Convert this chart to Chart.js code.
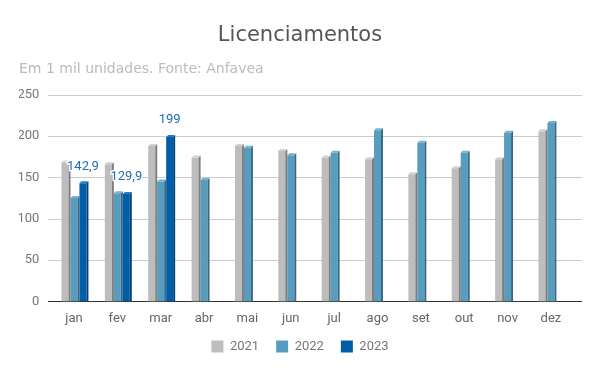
<!DOCTYPE html>
<html>
<head>
<meta charset="utf-8">
<script src="https://cdn.jsdelivr.net/npm/chart.js@4.4.1/dist/chart.umd.min.js"></script>
<style>
html,body{margin:0;padding:0;background:#fff;}
#wrap{width:600px;height:371px;}
</style>
</head>
<body>
<div id="wrap"><canvas id="c" width="600" height="371"></canvas></div>
<script>
const categories = ['jan','fev','mar','abr','mai','jun','jul','ago','set','out','nov','dez'];
const seriesNames = ['2021','2022','2023'];
const values2021 = [168, 166, 188, 174, 188, 182, 174, 172, 154, 161, 172, 206];
const values2022 = [125, 131, 145, 147, 186, 177, 180, 207, 192, 180, 204, 216];
const values2023 = [142.9, 129.9, 199, null, null, null, null, null, null, null, null, null];
const yTicks = [0, 50, 100, 150, 200, 250];

const front = ['#bdbdbd', '#579dc0', '#005ea8'];
const side  = ['#7e7e7e', '#3a6a83', '#00437a'];
const top_  = ['#d2d2d2', '#74b2d2', '#2a7bc0'];

const fmt = v => String(v).replace('.', ',');

const bars3d = {
  id: 'bars3d',
  afterLayout(chart) {
    // let the category labels extend below the shortened axis box (avoid clipping)
    chart.scales.x.bottom += 20;
  },
  beforeDatasetsDraw(chart) {
    const ctx = chart.ctx, y = chart.scales.y;
    ctx.save();
    yTicks.forEach(t => {
      const py = Math.round(y.getPixelForValue(t)) + 0.5;
      ctx.strokeStyle = t === 0 ? '#333333' : '#cccccc';
      ctx.lineWidth = 1;
      ctx.beginPath();
      ctx.moveTo(48, py);
      ctx.lineTo(582, py);
      ctx.stroke();
    });
    ctx.restore();
  },
  afterDatasetsDraw(chart) {
    const ctx = chart.ctx;
    const d = 2;
    ctx.save();
    chart.data.datasets.forEach((ds, i) => {
      const meta = chart.getDatasetMeta(i);
      meta.data.forEach((bar, j) => {
        if (ds.data[j] == null) return;
        const p = bar.getProps(['x','y','base','width'], true);
        const l = p.x - p.width/2, r = p.x + p.width/2, t = p.y, b = p.base;
        ctx.fillStyle = side[i];
        ctx.beginPath();
        ctx.moveTo(r, t); ctx.lineTo(r + d, t - d); ctx.lineTo(r + d, b); ctx.lineTo(r, b);
        ctx.closePath(); ctx.fill();
        ctx.fillStyle = top_[i];
        ctx.beginPath();
        ctx.moveTo(l, t); ctx.lineTo(l + d, t - d); ctx.lineTo(r + d, t - d); ctx.lineTo(r, t);
        ctx.closePath(); ctx.fill();
      });
    });
    // data labels for 2023
    const meta = chart.getDatasetMeta(2);
    ctx.font = '13px Roboto';
    ctx.textAlign = 'center';
    ctx.textBaseline = 'middle';
    ctx.lineJoin = 'round';
    meta.data.forEach((bar, j) => {
      const v = values2023[j];
      if (v == null) return;
      const x = bar.x, yy = bar.y - 17;
      ctx.strokeStyle = '#ffffff';
      ctx.lineWidth = 3;
      ctx.strokeText(fmt(v), x, yy);
      ctx.fillStyle = '#1f6db3';
      ctx.fillText(fmt(v), x, yy);
    });
    ctx.restore();
  }
};

const allSeries = [values2021, values2022, values2023];
new Chart(document.getElementById('c'), {
  type: 'bar',
  data: {
    labels: categories,
    datasets: allSeries.map((vals, i) => ({
      label: seriesNames[i],
      data: vals,
      backgroundColor: front[i],
      borderWidth: 0,
      barPercentage: 0.78,
      categoryPercentage: 0.62,
      yAxisID: 'y'
    }))
  },
  options: {
    responsive: false,
    animation: false,
    devicePixelRatio: 1,
    layout: { padding: { left: 19, right: 19, top: 0, bottom: 8 } },
    plugins: {
      title: {
        display: true,
        text: 'Licenciamentos',
        color: '#555555',
        font: { family: 'DejaVu Sans', size: 21, weight: 'normal' },
        padding: { top: 23, bottom: 0 }
      },
      subtitle: {
        display: true,
        text: 'Em 1 mil unidades. Fonte: Anfavea',
        align: 'start',
        color: '#bbbbbb',
        font: { family: 'DejaVu Sans', size: 14, weight: 'normal' },
        padding: { top: 12.4, bottom: 17.4 }
      },
      legend: {
        position: 'bottom',
        labels: {
          boxWidth: 12, boxHeight: 12, padding: 17,
          color: '#777777',
          font: { family: 'Roboto', size: 13 }
        }
      },
      tooltip: { enabled: false }
    },
    scales: {
      x: {
        afterFit: s => { s.height = s.height - 14; },
        grid: { display: false, drawTicks: false },
        border: { display: false },
        ticks: { color: '#666666', font: { family: 'Roboto', size: 13 }, padding: 10 }
      },
      y: {
        min: 0, max: 250,
        afterFit: s => { s.width = 33.3; },
        afterBuildTicks: s => { s.ticks = yTicks.map(v => ({ value: v })); },
        grid: { display: false, drawTicks: false },
        border: { display: false },
        ticks: { color: '#777777', font: { family: 'Roboto', size: 13 }, padding: 13 }
      },
      y2: {
        position: 'right',
        display: true,
        afterFit: s => { s.width = 8.4; },
        grid: { display: false, drawTicks: false },
        border: { display: false },
        ticks: { display: false }
      }
    }
  },
  plugins: [bars3d]
});
</script>
</body>
</html>
